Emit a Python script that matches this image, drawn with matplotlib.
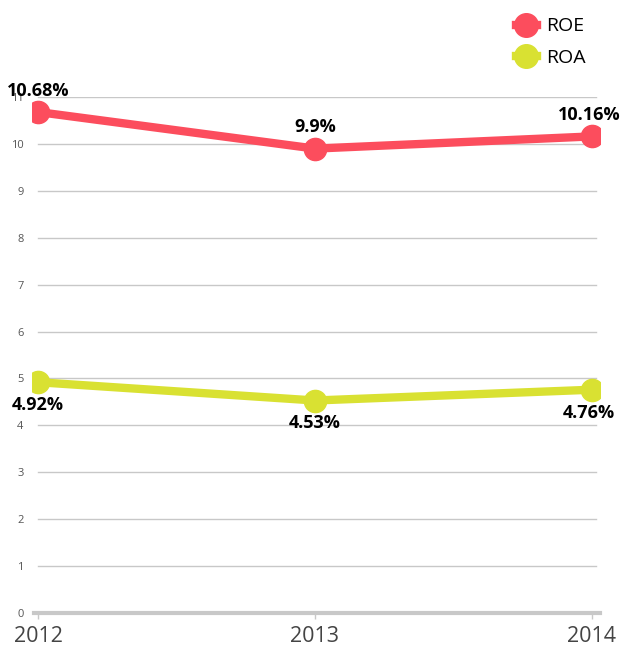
import matplotlib
matplotlib.use("Agg")
import matplotlib.pyplot as plt
from matplotlib.lines import Line2D

plt.rcParams['font.family'] = ['Open Sans', 'DejaVu Sans']

years = ['2012', '2013', '2014']
roe = [10.68, 9.9, 10.16]
roa = [4.92, 4.53, 4.76]
yticks = list(range(0, 12))

red = '#fc4d5d'
yel = '#d9e132'

fig = plt.figure(figsize=(6.2, 6.53), dpi=100)
ax = fig.add_axes([32 / 620, 40 / 653, 568 / 620, 516 / 653])
x = list(range(len(years)))

for s in ax.spines.values():
    s.set_visible(False)

# grid lines
for v in yticks[1:]:
    ax.plot([0, 2.015], [v, v], color='#c8c8c8', lw=1, zorder=1)
ax.plot([-0.015, 2.03], [0, 0], color='#c8c8c8', lw=3, zorder=1, clip_on=False)

ax.plot(x, roe, color=red, lw=6, marker='o', ms=16, zorder=3, solid_capstyle='round')
ax.plot(x, roa, color=yel, lw=6, marker='o', ms=16, zorder=3, solid_capstyle='round')

for i, v in enumerate(roe):
    ax.annotate(f'{v:g}%', (i, v), xytext=(-2 if i == 2 else 0, 9), textcoords='offset points',
                ha='center', va='bottom', fontsize=13, fontweight='bold', color='black')
for i, v in enumerate(roa):
    ax.annotate(f'{v:g}%', (i, v), xytext=(-2 if i == 2 else 0, -10), textcoords='offset points',
                ha='center', va='top', fontsize=13, fontweight='bold', color='black')

ax.set_xlim(-0.0217, 2.029)
ax.set_ylim(0, 11)
ax.set_yticks(yticks)
ax.set_yticklabels([str(t) for t in yticks], fontsize=8, color='#555555')
ax.tick_params(axis='y', length=0, pad=6)
ax.set_xticks(x)
ax.set_xticklabels(years, fontsize=15.5, color='#444444')
ax.tick_params(axis='x', length=4, color='#c8c8c8', width=1, pad=5)

handles = [Line2D([], [], color=red, lw=6, marker='o', ms=17),
           Line2D([], [], color=yel, lw=6, marker='o', ms=17)]
fig.legend(handles, ['ROE', 'ROA'], loc='upper left', bbox_to_anchor=(498 / 620, 1 - 0 / 653),
           frameon=False, fontsize=14, handlelength=1.1, labelspacing=0.7, handletextpad=0.5)

fig.savefig('out.png', dpi=100)
